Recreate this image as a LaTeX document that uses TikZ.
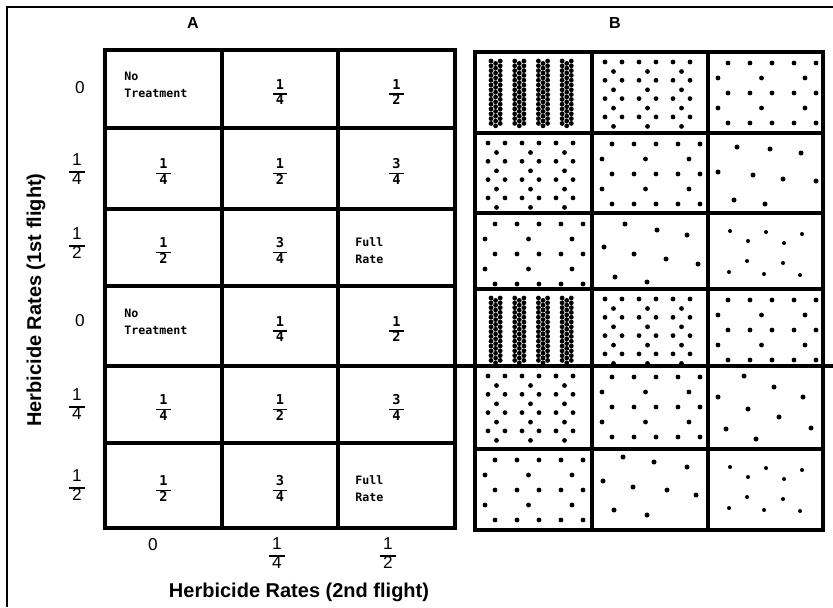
\documentclass[tikz,border=0pt]{standalone}
\usepackage{fontspec}
\setmainfont{Liberation Sans}
\newfontfamily\cellfam{DejaVu Sans Mono}
\newcommand\lblfont{\fontsize{8.6}{10}\selectfont}
\newcommand\cellfrfont{\cellfam\bfseries\fontsize{6.8}{7.6}\selectfont}
\newcommand\celltxtfont{\cellfam\bfseries\fontsize{5.8}{8.5}\selectfont}
\newcommand\titlefont{\bfseries\fontsize{10}{12}\selectfont}
\newcommand\panelfont{\bfseries\fontsize{8}{10}\selectfont}
\newcommand\stk[3][1pt]{{\setlength\arrayrulewidth{#1}\renewcommand\arraystretch{0.85}%
  \begin{tabular}{@{\hspace{1.5pt}}c@{\hspace{1.5pt}}}#2\\\hline #3\end{tabular}}}
\newcommand\patDense[2]{%
  \foreach \va in {0,...,3}{\foreach \vb/\vc in {0/0,1/2.4,2/0}{\foreach \vd in {0,...,13}{%
    \fill (#1+16+23.7*\va+4.6*\vb, #2+9+4.8*\vd+\vc) circle[radius=1.2pt];}}}}
\newcommand\patEight[2]{%
  \foreach \va in {0,...,3}{%
    \foreach \vb in {0,...,5}{\fill (#1+13+17*\vb, #2+10+18.3*\va) circle[radius=1.2pt];}
    \foreach \vb in {0,1,2}{\fill (#1+21.5+34*\vb, #2+19.5+18.3*\va) circle[radius=1.2pt];}}}
\newcommand\patFour[2]{%
  \foreach \va in {11,41,71}{\foreach \vb in {0,...,4}{\fill (#1+20+22*\vb, #2+\va) circle[radius=1.2pt];}}
  \foreach \va in {26,56}{\foreach \vb in {0,1,2}{\fill (#1+10+43.5*\vb, #2+\va) circle[radius=1.2pt];}}}
\newcommand\patList[4]{\foreach \va/\vb in {#4}{\fill (#1+\va, #2+\vb) circle[radius=#3];}}
\begin{document}
\begin{tikzpicture}[x=0.5pt,y=-0.5pt,
  grid/.style={line width=1.6pt},
  frame/.style={line width=1pt},
  rowlbl/.style={font=\lblfont, inner sep=0pt},
  cellfr/.style={font=\cellfrfont, inner sep=0pt},
  celltxt/.style={font=\celltxtfont, align=left, anchor=west, inner sep=0pt},
  title/.style={font=\titlefont, inner sep=0pt},
  panel/.style={font=\panelfont, inner sep=0pt}]
\useasboundingbox (0,0) rectangle (833,607);
% outer frame
\draw[frame] (7,607) -- (7,7) -- (833,7);
% panel labels
\node[panel] (pA) at (193,23) {A};
\node[panel] (pB) at (615,23) {B};
% grid A
\draw[grid] (105,50) rectangle (455,528);
\foreach \x in {222,338} \draw[grid] (\x,50) -- (\x,528);
\foreach \y in {128,209,286,443} \draw[grid] (105,\y) -- (455,\y);
\draw[grid] (105,366) -- (833,366);
% grid B
\draw[grid] (475,52) rectangle (823,530);
\foreach \x in {592,708} \draw[grid] (\x,52) -- (\x,530);
\foreach \y in {133,213,289,449} \draw[grid] (475,\y) -- (823,\y);
% cell texts A
\foreach \r/\yc in {1/89,4/326}{
  \node[celltxt] (nt\r) at (124,\yc-4) {No\\Treatment};
  \node[cellfr] (q\r b) at (280,\yc+5) {\stk[0.8pt]{1}{4}};
  \node[cellfr] (q\r c) at (396.5,\yc+5) {\stk[0.8pt]{1}{2}};
}
\foreach \r/\yc in {2/168.5,5/404.5}{
  \node[cellfr] (q\r a) at (163.5,\yc+5) {\stk[0.8pt]{1}{4}};
  \node[cellfr] (q\r b) at (280,\yc+5) {\stk[0.8pt]{1}{2}};
  \node[cellfr] (q\r c) at (396.5,\yc+5) {\stk[0.8pt]{3}{4}};
}
\foreach \r/\yc in {3/247.5,6/485.5}{
  \node[cellfr] (q\r a) at (163.5,\yc+5) {\stk[0.8pt]{1}{2}};
  \node[cellfr] (q\r b) at (280,\yc+5) {\stk[0.8pt]{3}{4}};
  \node[celltxt] (fr\r) at (355,\yc+3) {Full\\Rate};
}
% row labels
\node[rowlbl] (ra) at (80,88) {0};
\node[rowlbl] (rb) at (77,172) {\stk{1}{4}};
\node[rowlbl] (rc) at (77,246) {\stk{1}{2}};
\node[rowlbl] (rd) at (80,321) {0};
\node[rowlbl] (re) at (77,407) {\stk{1}{4}};
\node[rowlbl] (rf) at (77,488) {\stk{1}{2}};
% column labels
\node[rowlbl] (ca) at (153,545) {0};
\node[rowlbl] (cb) at (277,556) {\stk{1}{4}};
\node[rowlbl] (cc) at (388,556) {\stk{1}{2}};
% axis titles
\node[title] (tx) at (299,592) {Herbicide Rates (2nd flight)};
\node[title, rotate=90] (ty) at (36,300) {Herbicide Rates (1st flight)};
% dots panel B
\patDense{475}{52}
\patEight{592}{52}
\patFour{708}{52}
\patEight{475}{133}
\patFour{592}{133}
\patList{708}{133}{1.25pt}{29/14,62/16,93/20,10/39,45/42,75/46,108/48,26/67,57/71}
\patFour{475}{213}
\patList{592}{213}{1.25pt}{33/11,65/17,95/22,12/34,42/41,74/46,106/51,23/64,55/69}
\patList{708}{213}{1pt}{22/18,58/19,94/21,40/28,76/30,39/48,75/50,21/59,56/61,92/62}
\patDense{475}{289}
\patEight{592}{289}
\patFour{708}{289}
\patEight{475}{366}
\patFour{592}{366}
\patList{708}{366}{1.25pt}{36/10,66/21,10/31,95/31,40/43,71/51,18/63,103/62,48/73}
\patFour{475}{449}
\patList{592}{449}{1.25pt}{31/8,62/13,95/18,11/32,41/38,75/41,104/46,22/61,55/66}
\patList{708}{449}{1pt}{22/18,58/19,94/21,40/28,76/30,39/48,75/50,21/59,56/61,92/62}
\end{tikzpicture}
\end{document}
